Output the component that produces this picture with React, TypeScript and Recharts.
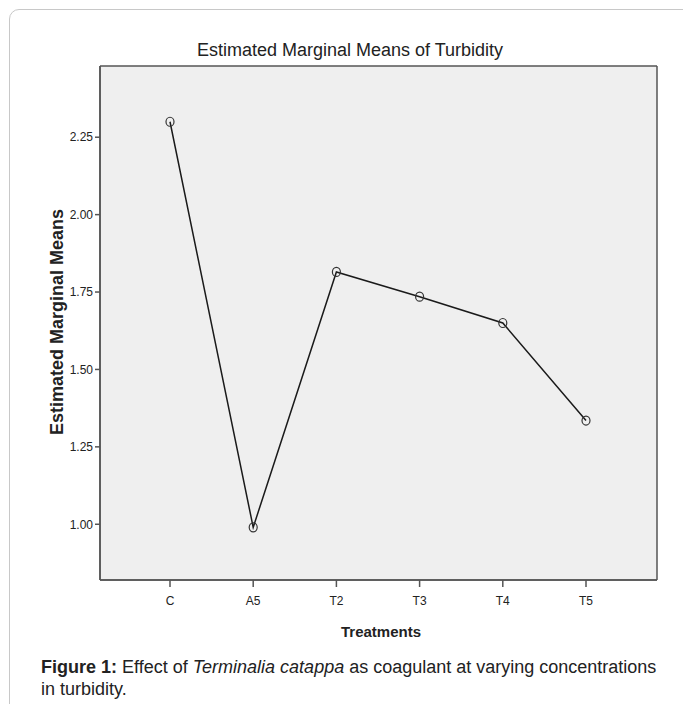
import { LineChart, Line, XAxis, YAxis, CartesianGrid } from "recharts";

// Estimated marginal means of turbidity per treatment
const treatments = ["C", "A5", "T2", "T3", "T4", "T5"];
const means = [2.3, 0.99, 1.815, 1.735, 1.65, 1.335];
const yTicks = [1.0, 1.25, 1.5, 1.75, 2.0, 2.25];
const yDomain = [0.82, 2.48];

const data = treatments.map((t, i) => ({ name: t, mean: means[i] }));

const FONT = '"Liberation Sans", Arial, sans-serif';
const FRAME = "#555";
const TEXT = "#222";

type Offset = { top: number; left: number; width: number; height: number };

// grid lines only on the plot edges -> closed frame
const frameRows = ({ offset }: { offset: Offset }) => [
  offset.top,
  offset.top + offset.height,
];
const frameCols = ({ offset }: { offset: Offset }) => [
  offset.left,
  offset.left + offset.width,
];

function RingDot(props: { cx?: number; cy?: number; index?: number }) {
  const { cx, cy, index } = props;
  if (cx == null || cy == null) return null;
  return (
    <ellipse
      key={`dot-${index}`}
      cx={cx}
      cy={cy}
      rx={4}
      ry={4.5}
      fill="none"
      stroke="#333"
      strokeWidth={1.2}
    />
  );
}

export default function App() {
  const tick = { fill: TEXT, fontSize: 12, fontFamily: FONT };
  return (
    <div
      style={{
        position: "fixed",
        left: 0,
        top: 0,
        width: 683,
        height: 704,
        overflow: "hidden",
        background: "#fff",
        fontFamily: FONT,
        color: TEXT,
      }}
    >
      {/* page frame */}
      <div
        style={{
          position: "absolute",
          left: 9,
          top: 9,
          width: 700,
          height: 720,
          border: "1px solid #c8c8c8",
          borderRadius: 10,
        }}
      />

      <div style={{ position: "absolute", left: 0, top: 0 }}>
        <LineChart
          width={683}
          height={704}
          data={data}
          margin={{ top: 66, right: 26, left: 40, bottom: 94 }}
        >
          <CartesianGrid
            fill="#efefef"
            stroke={FRAME}
            strokeWidth={1.5}
            horizontalCoordinatesGenerator={frameRows}
            verticalCoordinatesGenerator={frameCols}
          />
          <XAxis
            dataKey="name"
            padding={{ left: 70, right: 71 }}
            height={30}
            axisLine={{ stroke: FRAME, strokeWidth: 1.5 }}
            tickLine={{ stroke: FRAME, strokeWidth: 1.5 }}
            tickSize={7}
            tickMargin={9}
            tick={tick}
          />
          <YAxis
            domain={yDomain}
            ticks={yTicks}
            width={60}
            allowDataOverflow
            axisLine={{ stroke: FRAME, strokeWidth: 1.5 }}
            tickLine={{ stroke: FRAME, strokeWidth: 1.5 }}
            tickSize={5}
            tickMargin={2}
            tick={tick}
            tickFormatter={(v: number) => v.toFixed(2)}
          />
          <Line
            dataKey="mean"
            type="linear"
            stroke="#1a1a1a"
            strokeWidth={1.5}
            dot={<RingDot />}
            activeDot={false}
            isAnimationActive={false}
          />
        </LineChart>
      </div>

      <div
        style={{
          position: "absolute",
          left: 350,
          top: 39,
          transform: "translateX(-50%)",
          fontSize: 18,
          lineHeight: "22px",
          whiteSpace: "nowrap",
        }}
      >
        Estimated Marginal Means of Turbidity
      </div>

      <div
        style={{
          position: "absolute",
          left: 57,
          top: 322,
          transform: "translate(-50%, -50%) rotate(-90deg)",
          fontSize: 18,
          fontWeight: "bold",
          lineHeight: "22px",
          whiteSpace: "nowrap",
        }}
      >
        Estimated Marginal Means
      </div>

      <div
        style={{
          position: "absolute",
          left: 381,
          top: 632,
          transform: "translate(-50%, -50%)",
          fontSize: 15,
          fontWeight: "bold",
          lineHeight: "18px",
          whiteSpace: "nowrap",
        }}
      >
        Treatments
      </div>

      <div
        style={{
          position: "absolute",
          left: 41,
          top: 656,
          fontSize: 18,
          lineHeight: "22px",
          whiteSpace: "nowrap",
        }}
      >
        <b>Figure 1:</b> Effect of <i>Terminalia catappa</i> as coagulant at
        varying concentrations
        <br />
        in turbidity.
      </div>
    </div>
  );
}
